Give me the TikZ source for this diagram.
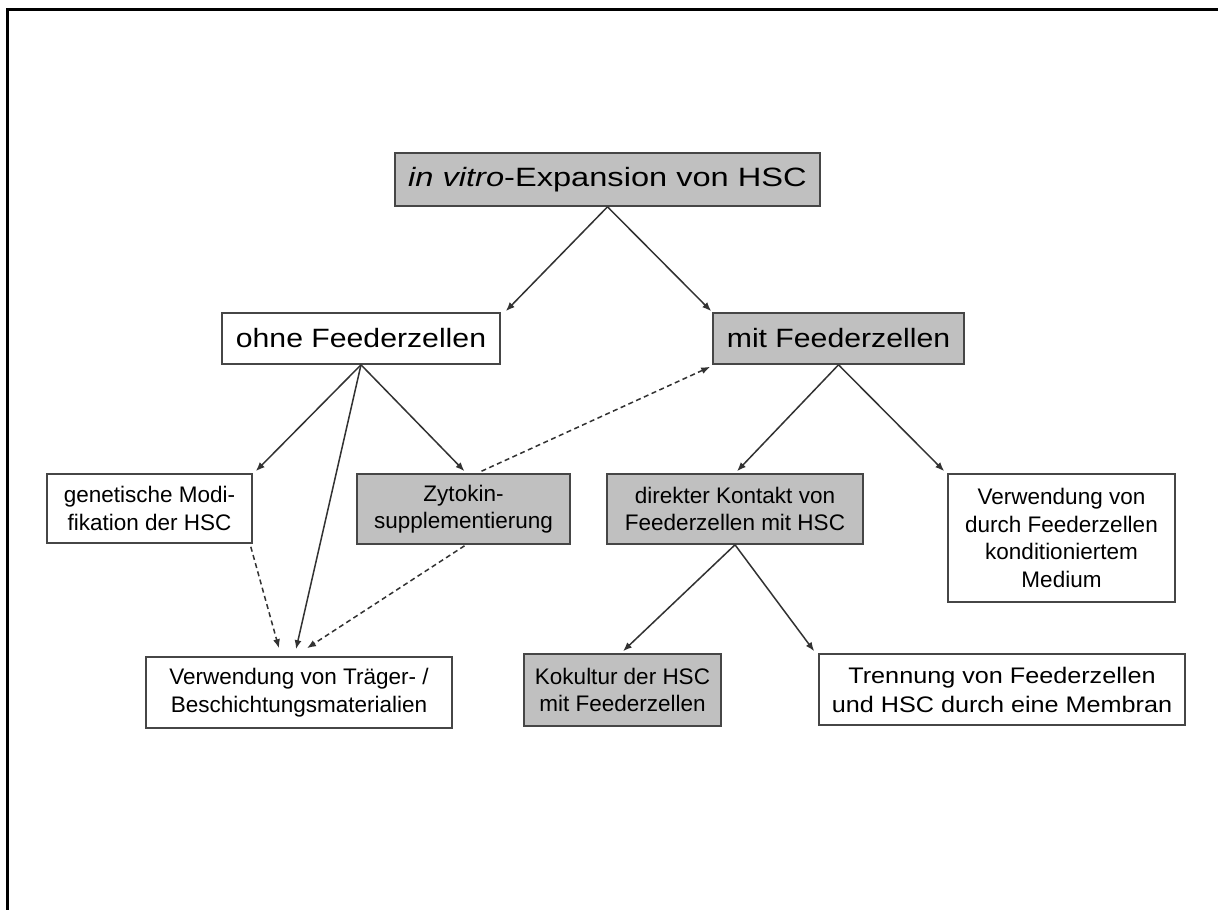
\documentclass[tikz,border=0pt]{standalone}
\usepackage{fontspec}
\setmainfont{Liberation Sans}
\newfontfamily\bigf[FakeStretch=1.14]{Liberation Sans}
\newfontfamily\topf[FakeStretch=1.23]{Liberation Sans}
\newfontfamily\widef[FakeStretch=1.12]{Liberation Sans}
\usetikzlibrary{arrows.meta,calc}
\definecolor{boxgray}{RGB}{192,192,192}
\definecolor{edge}{RGB}{70,70,70}
\definecolor{linec}{RGB}{50,50,50}
\tikzset{
  box/.style={draw=edge,line width=1.6pt,rectangle,inner sep=0pt,align=center,text=black},
  graybox/.style={box,fill=boxgray},
  whitebox/.style={box,fill=white},
  bigtext/.style={font=\bigf\fontsize{26.5}{30}\selectfont},
  toptext/.style={font=\topf\fontsize{26.5}{30}\selectfont},
  smalltext/.style={font=\fontsize{22.5}{27.5}\selectfont},
  widetext/.style={font=\widef\fontsize{22.5}{29}\selectfont},
  conn/.style={draw=linec,line width=1.5pt,-{Latex[length=9pt,width=7pt]}},
  dconn/.style={conn,dash pattern=on 5pt off 3.5pt}
}
\begin{document}
\begin{tikzpicture}[x=1pt,y=-1pt]
\useasboundingbox (0,0) rectangle (1218,910);
\fill[white] (0,0) rectangle (1218,910);
\draw[line width=3pt,black] (7.5,912) -- (7.5,9) -- (1220,9);

\node[graybox,toptext,minimum width=425pt,minimum height=53pt] (top) at (607.5,179.5) {\textit{in vitro}-Expansion von HSC};
\node[whitebox,bigtext,minimum width=278pt,minimum height=51pt] (ohne) at (361,338.5) {ohne Feederzellen};
\node[graybox,bigtext,minimum width=251pt,minimum height=51pt] (mit) at (838.5,338.5) {mit Feederzellen};

\node[whitebox,smalltext,minimum width=205pt,minimum height=69pt] (gen) at (149.5,508.5) {genetische Modi-\\fikation der HSC};
\node[graybox,smalltext,minimum width=213pt,minimum height=70pt] (zyt) at (463.5,509) {Zytokin-\\supplementierung};
\node[graybox,smalltext,minimum width=256pt,minimum height=70pt] (dir) at (735,509) {direkter Kontakt von\\Feederzellen mit HSC};
\node[whitebox,smalltext,minimum width=227pt,minimum height=128pt] (verw) at (1061.5,538) {Verwendung von\\durch Feederzellen\\konditioniertem\\Medium};

\node[whitebox,smalltext,minimum width=306pt,minimum height=71pt] (traeger) at (299,692.5) {Verwendung von Träger- /\\Beschichtungsmaterialien};
\node[graybox,smalltext,minimum width=197pt,minimum height=72pt] (koku) at (622.5,690) {Kokultur der HSC\\mit Feederzellen};
\node[whitebox,widetext,minimum width=366pt,minimum height=71pt] (trenn) at (1002,689.5) {Trennung von Feederzellen\\und HSC durch eine Membran};

% solid connectors
\draw[conn] (top.south) -- ($(ohne.north east)+(5,-1)$);
\draw[conn] (top.south) -- ($(mit.north west)+(-1,-1)$);
\draw[conn] (ohne.south) -- ($(gen.north east)+(3,-2)$);
\draw[conn] (ohne.south) -- ($(traeger.north)+(-3,-7)$);
\draw[conn] (ohne.south) -- ($(zyt.north)+(1,-2)$);
\draw[conn] (mit.south) -- ($(dir.north)+(2,-2)$);
\draw[conn] (mit.south) -- ($(verw.north west)+(-3,-2)$);
\draw[conn] (dir.south) -- ($(koku.north)+(0.5,-2)$);
\draw[conn] (dir.south) -- ($(trenn.north west)+(-4,-2)$);

% dashed connectors
\draw[dconn] ($(gen.south east)+(-2,3)$) -- ($(traeger.north)+(-20,-8)$);
\draw[dconn] ($(zyt.south)+(1,1)$) -- ($(traeger.north)+(8,-8)$);
\draw[dconn] ($(zyt.north)+(18,-2)$) -- ($(mit.south west)+(-2,2)$);
\end{tikzpicture}
\end{document}
